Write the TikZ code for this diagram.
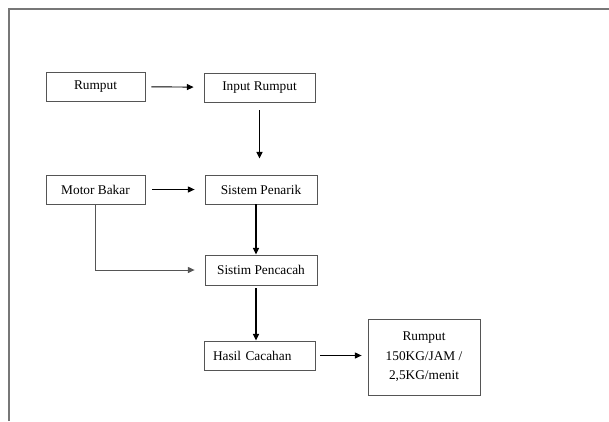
\documentclass[tikz,border=0pt]{standalone}
\usepackage{fontspec}
\setmainfont{Liberation Serif}
\usetikzlibrary{arrows.meta,positioning}
\definecolor{edge}{HTML}{555555}
\definecolor{frame}{HTML}{777777}

\begin{document}
\begin{tikzpicture}[x=0.75pt,y=-0.75pt,
  box/.style={draw=edge,line width=0.6pt,minimum width=#1,minimum height=21.75pt,inner sep=0pt,font=\fontsize{10}{14.6}\selectfont},
  flow/.style={-{Triangle[length=5pt,width=4.5pt]},line width=0.7pt},
  down/.style={-{Triangle[length=5pt,width=4.5pt]},line width=1.1pt},
]
  \useasboundingbox (0,0) rectangle (609,421);
  \draw[frame,line width=0.8pt] (9,421) -- (9,9) -- (609,9);

  \node[box=74.25pt] (rumput) at (95.5,86.5) {Rumput};
  \node[box=83.25pt] (input) at (259.5,87.5) {Input Rumput};
  \node[box=74.25pt] (motor) at (95.5,189.5) {Motor Bakar};
  \node[box=84pt] (penarik) at (261,189.5) {Sistem Penarik};
  \node[box=84pt,minimum height=22.5pt] (pencacah) at (261,270) {Sistim Pencacah};
  \node[box=83.25pt,inner xsep=6.75pt,text width=69.75pt,align=left] (hasil) at (259.5,355.5) {Hasil Cacahan};
  \node[box=84pt,minimum height=57pt,align=center] (output) at (424,357) {Rumput\\150KG/JAM /\\2,5KG/menit};

  \draw[flow,shorten <=4.5pt,shorten >=7.5pt] (rumput) -- (input);
  \draw[down,shorten <=6pt,shorten >=12pt] (input.south) -- (input.south |- penarik.north);
  \draw[flow,shorten <=5pt,shorten >=7.5pt] (motor) -- (penarik);
  \draw[down] ([xshift=-3.75pt]penarik.south) -- ([xshift=-3.75pt]penarik.south |- pencacah.north);
  \draw[flow,draw=edge,shorten >=7.5pt] (motor.south) |- (pencacah.west);
  \draw[down,shorten <=2.25pt] ([xshift=-3.75pt]pencacah.south) -- ([xshift=-3.75pt]pencacah.south |- hasil.north);
  \draw[flow,shorten <=3.75pt,shorten >=4.5pt] (hasil.east) -- (hasil.east -| output.west);
\end{tikzpicture}
\end{document}
